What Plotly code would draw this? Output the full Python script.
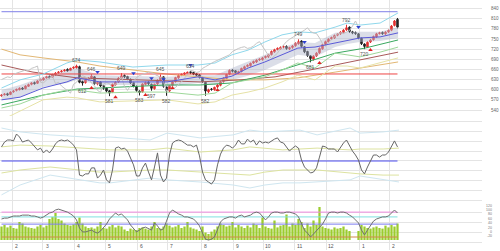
import plotly.graph_objects as go

# ---------------- data ----------------
OPEN = [582,585,588,586,594,598,600,605,603,610,616,621,619,627,629,635,639,637,644,650,
        653,656,660,657,664,665,668,624,621,630,635,638,617,623,612,605,597,592,615,623,
        635,642,639,631,621,610,596,594,616,622,616,603,617,627,638,608,596,613,624,635,
        643,646,648,653,651,647,644,636,622,594,602,600,608,613,624,633,646,658,656,650,
        654,662,669,671,679,682,688,689,695,697,704,712,719,721,726,728,721,725,730,736,
        744,727,713,700,690,700,709,721,734,741,750,753,761,765,769,777,785,771,769,765,
        752,735,726,741,748,756,766,769,765,771,776,790,808]
CLOSE = [584,587,585,593,596,601,604,602,611,615,620,618,626,630,634,638,636,645,649,652,
         655,658,656,663,666,670,622,620,629,634,640,618,622,611,604,596,590,616,622,634,
         641,638,632,620,611,598,592,617,621,618,604,616,628,637,610,598,612,623,636,642,
         645,649,652,650,646,643,637,624,596,600,601,607,614,623,634,645,657,655,651,653,
         663,668,672,678,683,687,690,694,698,703,713,718,722,725,727,722,724,729,737,742,
         728,712,701,692,699,708,722,733,742,749,754,760,764,770,776,783,772,768,766,753,
         736,728,740,747,757,765,768,766,770,775,788,803,785]
HIGH = [587,590,591,595,599,603,607,608,613,618,622,624,628,633,637,641,642,647,652,655,
        658,661,663,665,669,674,671,627,632,637,646,640,625,625,614,607,599,618,625,637,
        649,645,641,633,623,612,598,619,624,625,618,618,631,645,640,610,614,626,638,645,
        648,651,653,654,653,649,646,638,624,603,605,609,617,626,637,647,660,661,658,656,
        665,671,675,680,686,690,693,697,701,706,716,721,725,728,731,731,727,732,740,749,
        746,729,715,702,702,711,725,736,745,752,757,763,767,773,779,792,787,774,772,767,
        754,737,743,750,760,768,771,772,773,778,791,806,812]
LOW = [579,583,582,584,591,595,598,599,601,608,613,615,617,624,627,633,633,635,641,647,
       650,653,653,655,661,662,619,612,618,627,632,615,613,608,600,592,581,590,612,620,
       632,634,628,617,607,594,583,591,613,614,597,600,614,625,606,582,593,610,621,632,
       640,643,645,646,643,640,633,620,582,590,597,597,605,610,621,630,643,651,648,647,
       651,659,666,668,676,679,685,686,692,694,701,709,716,718,722,718,717,721,727,733,
       724,708,697,681,686,697,706,718,731,738,747,750,758,762,766,774,768,764,762,749,
       732,720,723,738,745,753,763,762,762,768,773,787,781]

# high / low value labels: candle index and which extreme
HL_IDX = [25, 27, 30, 36, 40, 46, 50, 53, 55, 63, 68, 99, 103, 115, 121]
HL_KIND = ["H", "L", "H", "L", "H", "L", "L", "H", "L", "H", "L", "H", "L", "H", "L"]

# signals
SELL_IDX = [32, 44, 50, 54, 63, 101, 119]
SELL_PRICE = [652, 649, 634, 631, 673, 741, 785]
BUY_IDX = [30, 38, 48, 57, 72, 106, 123]
BUY_PRICE = [605, 578, 584, 605, 599, 679, 717]

# bollinger-like band samples (candle index -> price)
BAND_X = [0, 6.2, 13.8, 21.8, 25.2, 32.8, 43.8, 55.2, 65.5, 71.2, 76.8, 82.2, 87.8, 93.5, 98.8,
          104.5, 111.2, 115.2, 119.5, 126.2, 132.2]
MA_MID = [570, 578, 605, 623, 635, 623, 623, 623, 638, 629, 640, 664, 682, 703, 723, 726, 738, 747, 753, 756, 768]
BB_UP = [605, 629, 646, 679, 688, 682, 667, 673, 673, 679, 703, 717, 741, 762, 771, 768, 785, 797, 791, 797, 827]
BB_LO = [546, 558, 584, 599, 599, 590, 593, 593, 584, 590, 620, 629, 638, 658, 679, 664, 708, 703, 697, 711, 726]
BB_LO3 = [510, 537, 570, 578, 576, 564, 567, 570, 558, 564, 584, 593, 605, 623, 643, 629, 670, 670, 664, 679, 694]
SH_UP = [599, 614, 638, 655, 664, 643, 641, 638, 643, 643, 664, 682, 703, 723, 741, 738, 768, 771, 771, 771, 785]
SH_LO = [570, 578, 608, 620, 629, 614, 614, 608, 620, 614, 629, 641, 658, 682, 703, 697, 726, 735, 741, 744, 753]

# long moving averages
TAN_X = [0, 6.2, 13.8, 25.2, 32.8, 43.8, 55.2, 66.2, 76.8, 87.8, 98.8, 111.2, 121.2, 132.2]
TAN_Y = [720, 703, 694, 682, 670, 658, 646, 638, 629, 629, 635, 652, 667, 682]
MAROON_X = [0, 10.5, 25.2, 43.8, 66.2, 79.5, 91.2, 111.2, 132.2]
MAROON_Y = [673, 652, 635, 629, 623, 629, 638, 673, 711]
GREEN_X = [0, 13.8, 25.2, 32.8, 43.8, 55.2, 66.2, 76.8, 87.8, 98.8, 111.2, 121.2, 132.2]
GREEN_Y = [555, 584, 602, 605, 608, 614, 614, 620, 643, 673, 708, 723, 747]
RED_LEVEL = 646.5
BLUE_LEVEL = 830.5
LAG = 13

# oscillator (middle panel)
OSC = [47,63,70,70,67,90,80,63,67,70,60,47,37,43,27,37,27,40,57,67,
       70,67,70,63,53,37,-47,-50,-43,-43,-23,-23,-57,-47,-30,-63,-73,-30,43,47,
       40,43,33,10,-13,-50,-50,-23,-7,-37,-63,-20,27,-47,-70,-57,20,60,67,70,
       67,60,53,53,47,53,17,-37,-63,-70,-77,-63,-13,23,43,53,50,43,53,70,
       57,57,73,63,70,53,67,60,63,60,67,73,77,63,60,47,33,43,50,43,
       3,-20,-30,-40,-37,-23,13,50,47,40,40,40,30,47,60,70,50,33,20,3,
       -30,-43,-20,0,20,20,13,20,20,30,50,67,47]
OSCB_X = [0, 6.2, 16.2, 27.2, 32.8, 36.2, 49.5, 55.2, 66.2, 77.2, 82.8, 87.8, 93.8, 99.5, 105.2,
          116.2, 119.5, 127.2, 132.5]
OSC_UP2 = [110, 97, 87, 80, 77, 80, 70, 93, 77, 87, 103, 97, 100, 103, 87, 110, 93, 97, 103]
OSC_UP1 = [47, 53, 50, 43, 37, 37, 37, 43, 30, 37, 47, 43, 37, 40, 43, 37, 40, 40, 43]
OSC_LO1 = [-40, -30, -20, -30, -37, -37, -30, -30, -37, -43, -47, -37, -30, -30, -30, -40, -43, -47, -47]
OSC_LO2 = [-113, -80, -47, -63, -73, -73, -57, -63, -70, -80, -90, -80, -73, -73, -70, -63, -50, -63, -70]

# bottom panel
VOL = [45,50,42,48,40,38,60,55,45,42,40,38,45,50,42,48,70,77,90,70,
       65,55,50,48,52,60,75,55,45,40,42,38,45,60,40,38,45,50,42,48,
       45,35,30,38,35,33,40,42,38,35,45,60,40,38,45,55,48,42,45,50,
       40,45,60,42,38,35,30,45,25,20,28,35,45,55,50,45,48,60,42,50,
       45,40,48,42,55,50,40,75,45,40,38,65,42,48,50,85,45,55,50,70,
       60,40,55,45,65,50,110,45,40,38,35,42,38,40,45,35,30,0,0,30,
       50,45,40,38,42,45,40,38,48,42,50,45,55]
LINE3 = [70,73,73,77,80,80,80,83,83,83,80,80,77,73,77,83,90,93,100,103,
         100,97,93,87,80,67,40,27,27,30,33,27,23,30,40,53,70,80,90,83,
         87,77,67,50,40,27,33,40,43,37,33,57,47,33,37,63,90,100,93,87,
         83,77,77,73,70,60,47,23,3,0,3,10,33,60,70,73,77,77,73,80,
         83,77,80,83,90,93,90,80,67,77,90,93,93,90,90,93,93,90,87,77,
         53,33,23,10,20,30,40,53,70,90,93,93,90,93,93,90,83,77,67,57,
         33,17,33,50,63,70,73,77,77,80,90,100,90]
LEVELS3 = [93, 77, 53, 10]
LEVEL3_COLORS = ["#f08ce0", "#7fe0e0", "#7b7bf0", "#d08a4a"]
TICK3_TEXT = ["120", "100", "80", "60", "40", "20", "0", "-20"]
TICK3_POS = [113, 100, 87, 70, 57, 40, 27, 13]

MONTH_START = [3.5, 13.8, 24.2, 34.5, 45.2, 55.2, 66.5, 77.2, 87.2, 97.8, 108.2, 119.2, 129.2]
MONTH_LABEL = ["2", "3", "4", "5", "6", "7", "8", "9", "10", "11", "12", "1", "2"]

# ---------------- figure ----------------
W, H = 500, 251
IDX = list(range(len(CLOSE)))


def dom(top_px, bot_px):
    return [(H - bot_px) / H, (H - top_px) / H]


fig = go.Figure()

# main panel
fig.add_trace(go.Scatter(x=BAND_X, y=SH_UP, mode="lines", line=dict(width=0), hoverinfo="skip"))
fig.add_trace(go.Scatter(x=BAND_X, y=SH_LO, mode="lines", line=dict(width=0), fill="tonexty",
                         fillcolor="rgba(175,182,205,0.45)", hoverinfo="skip"))
fig.add_trace(go.Scatter(x=TAN_X, y=TAN_Y, mode="lines", line=dict(color="#e2b774", width=1)))
fig.add_trace(go.Scatter(x=MAROON_X, y=MAROON_Y, mode="lines", line=dict(color="#a85a5a", width=1)))
fig.add_trace(go.Scatter(x=GREEN_X, y=GREEN_Y, mode="lines", line=dict(color="#3aa860", width=1)))
fig.add_trace(go.Scatter(x=[IDX[0], IDX[-1]], y=[RED_LEVEL, RED_LEVEL], mode="lines",
                         line=dict(color="#ee4444", width=1)))
fig.add_trace(go.Scatter(x=[IDX[0], IDX[-1]], y=[BLUE_LEVEL, BLUE_LEVEL], mode="lines",
                         line=dict(color="#8080e8", width=1)))
fig.add_trace(go.Scatter(x=BAND_X, y=BB_LO3, mode="lines", line=dict(color="#e6e2a6", width=1)))
fig.add_trace(go.Scatter(x=BAND_X, y=BB_UP, mode="lines", line=dict(color="#8fd8ec", width=1)))
fig.add_trace(go.Scatter(x=BAND_X, y=BB_LO, mode="lines", line=dict(color="#9ed89a", width=1)))
fig.add_trace(go.Scatter(x=IDX[:-LAG], y=CLOSE[LAG:], mode="lines", line=dict(color="#c4c4c4", width=1)))
fig.add_trace(go.Scatter(x=BAND_X, y=MA_MID, mode="lines", line=dict(color="#5a5ad8", width=1)))
fig.add_trace(go.Candlestick(x=IDX, open=OPEN, high=HIGH, low=LOW, close=CLOSE,
                             increasing=dict(line=dict(color="#e23030", width=1), fillcolor="#e23030"),
                             decreasing=dict(line=dict(color="#222222", width=1), fillcolor="#222222"),
                             whiskerwidth=0))
fig.add_trace(go.Scatter(x=SELL_IDX, y=SELL_PRICE, mode="markers",
                         marker=dict(symbol="triangle-down", size=4, color="#2b3fd0")))
fig.add_trace(go.Scatter(x=BUY_IDX, y=BUY_PRICE, mode="markers",
                         marker=dict(symbol="triangle-up", size=4, color="#e02020")))

# oscillator panel
for arr, col in [(OSC_UP2, "#cfe6f0"), (OSC_LO2, "#cfe6f0"), (OSC_UP1, "#dde3a0"), (OSC_LO1, "#dde3a0")]:
    fig.add_trace(go.Scatter(x=OSCB_X, y=arr, mode="lines", line=dict(color=col, width=1),
                             xaxis="x2", yaxis="y2"))
fig.add_trace(go.Scatter(x=[IDX[0], IDX[-1]], y=[0, 0], mode="lines", line=dict(color="#4a4aee", width=1),
                         xaxis="x2", yaxis="y2"))
fig.add_trace(go.Scatter(x=IDX, y=OSC, mode="lines", line=dict(color="#666666", width=1),
                         xaxis="x2", yaxis="y2"))

# bottom panel
fig.add_trace(go.Bar(x=IDX, y=VOL, marker=dict(color="#9bcc2e", line=dict(width=0)),
                     xaxis="x3", yaxis="y3"))
for lv, col in zip(LEVELS3, LEVEL3_COLORS):
    fig.add_trace(go.Scatter(x=[IDX[0], IDX[-1]], y=[lv, lv], mode="lines", line=dict(color=col, width=1),
                             xaxis="x3", yaxis="y3"))
fig.add_trace(go.Scatter(x=IDX, y=LINE3, mode="lines", line=dict(color="#707070", width=1),
                         xaxis="x3", yaxis="y3"))

GRID = "#e4e4e4"
XR = [-0.5, 160.17]
XD = [0, 482 / W]
xcommon = dict(range=XR, domain=XD, tickvals=MONTH_START, showticklabels=False, showgrid=True,
               gridcolor=GRID, gridwidth=1, zeroline=False, showline=False, ticks="")

annotations = []
for i, k in zip(HL_IDX, HL_KIND):
    v = HIGH[i] if k == "H" else LOW[i]
    annotations.append(dict(x=i, y=v, xref="x", yref="y", text=str(v), showarrow=False,
                            yshift=5 if k == "H" else -5, font=dict(size=5, color="#555555",
                                                                    family="Liberation Sans")))
for ms, lab in zip(MONTH_START, MONTH_LABEL):
    annotations.append(dict(x=ms + 1.5, y=(H - 246) / H, xref="x3", yref="paper", text=lab,
                            yanchor="middle", showarrow=False,
                            font=dict(size=5, color="#555555", family="Liberation Sans")))
for pos, lab in zip(TICK3_POS, TICK3_TEXT):
    annotations.append(dict(x=494 / W, y=pos, xref="paper", yref="y3", text=lab, showarrow=False,
                            font=dict(size=3.5, color="#777777", family="Liberation Sans")))

fig.update_layout(
    width=W, height=H, margin=dict(l=0, r=0, t=0, b=0),
    paper_bgcolor="white", plot_bgcolor="white", showlegend=False, bargap=0.25,
    xaxis=dict(**xcommon, anchor="y", rangeslider=dict(visible=False)),
    xaxis2=dict(**xcommon, anchor="y2", matches="x"),
    xaxis3=dict(**xcommon, anchor="y3", matches="x"),
    yaxis=dict(domain=dom(0, 116), range=[522.3, 865.1], side="right", tick0=0, dtick=30,
               showgrid=True, gridcolor=GRID, zeroline=False, ticks="", ticklabelstandoff=8,
               tickfont=dict(size=4.5, color="#666666", family="Liberation Sans")),
    yaxis2=dict(domain=dom(116, 202), range=[-136.7, 150], tick0=0, dtick=100 / 3, side="right",
                showgrid=True, gridcolor=GRID, zeroline=False, showticklabels=False),
    yaxis3=dict(domain=dom(202, 250), range=[-33.3, 126.7], tick0=80 / 3, dtick=100 / 3, side="right",
                showgrid=True, gridcolor=GRID, zeroline=False, showticklabels=False),
    annotations=annotations,
)

fig.write_html("out.html")
